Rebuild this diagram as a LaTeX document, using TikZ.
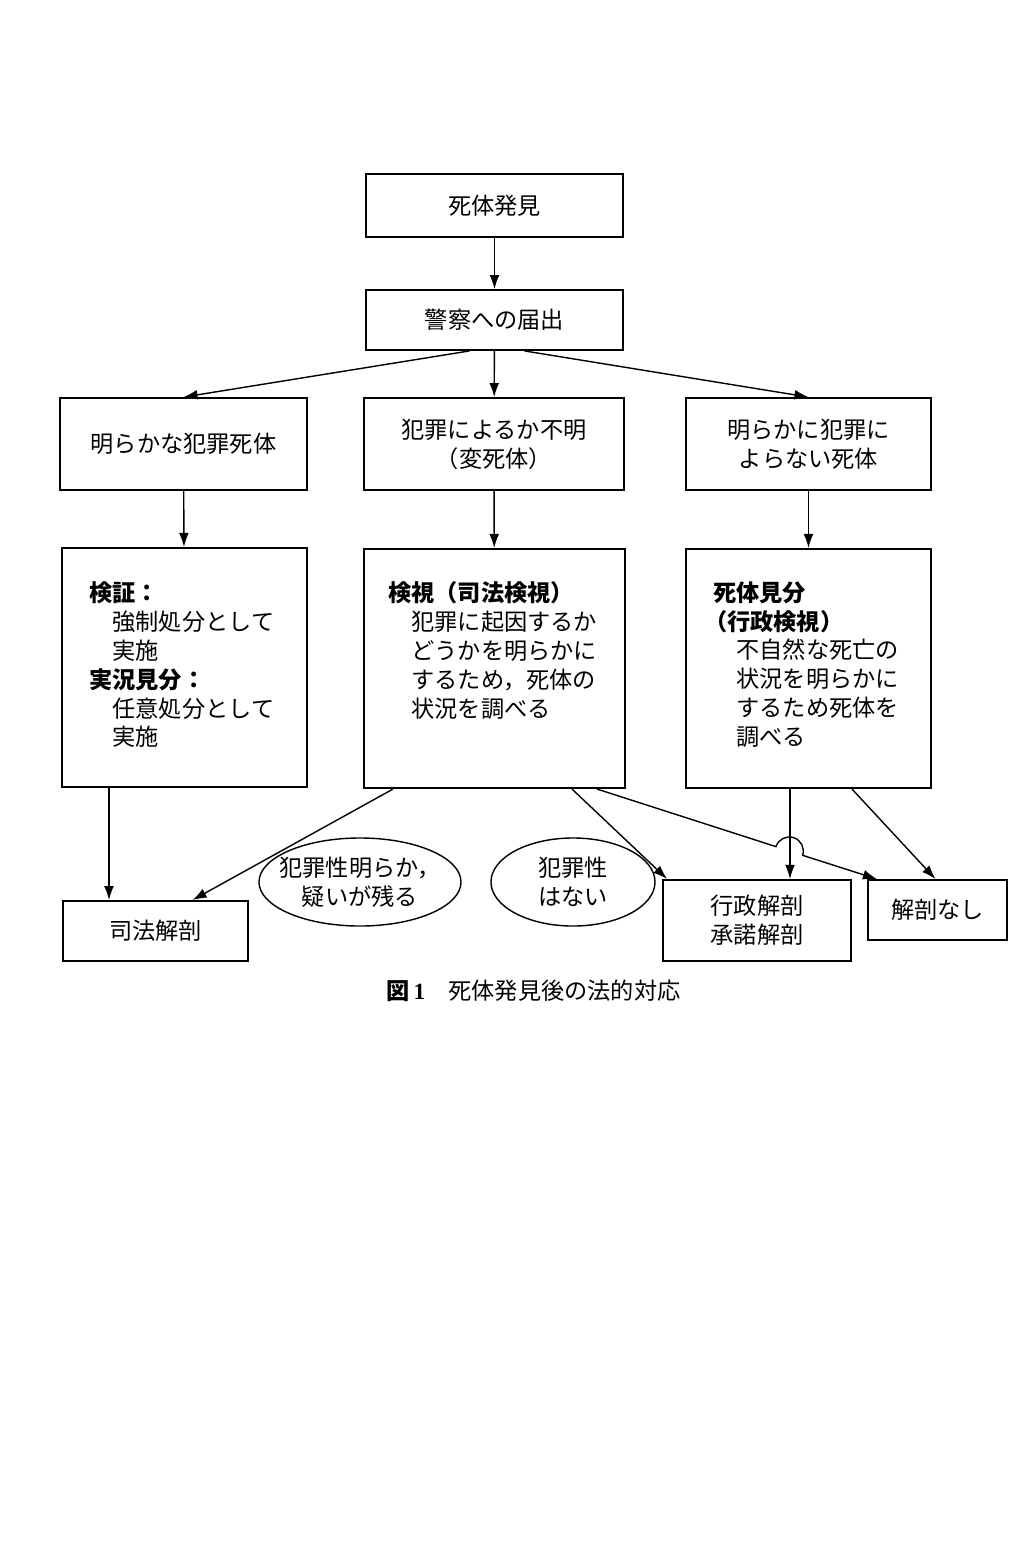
\documentclass[tikz,border=0pt]{standalone}
\usepackage{fontspec}
\setmainfont{Noto Sans CJK JP}
\newfontfamily\capnumfont{Liberation Serif}
\usetikzlibrary{arrows.meta,shapes.geometric,calc}
\newcommand{\diagfont}{\fontsize{16.5}{20.6}\selectfont}

\begin{document}
\begin{tikzpicture}[
    x=0.025cm, y=-0.025cm,
    % Define styles
    box/.style={rectangle, draw, line width=1.3pt, align=center, inner sep=0pt, font=\diagfont},
    bubble/.style={ellipse, draw, line width=1pt, align=center, inner xsep=-10pt, inner ysep=0pt, minimum height=2.2cm, font=\diagfont},
    note/.style={anchor=north west, align=left, inner sep=0pt, font=\diagfont},
    flow/.style={-{Latex[length=10pt,width=7pt]}, line width=1pt}
]
\useasboundingbox (0,0) rectangle (1020,1548);

% Discovery and report
\node[box, minimum width=6.43cm, minimum height=1.58cm] (discovery) at (494.5,205.5) {死体発見};
\node[box, minimum width=6.43cm, minimum height=1.5cm] (police) at (494.5,320) {警察への届出};

% Classification layer
\node[box, minimum width=6.18cm, minimum height=2.3cm] (obvious_crime) at (183.5,444) {明らかな犯罪死体};
\node[box, minimum width=6.5cm, minimum height=2.3cm] (unknown) at (494,444) {犯罪によるか不明\\（変死体）};
\node[box, minimum width=6.13cm, minimum height=2.3cm] (not_crime) at (808.5,444) {明らかに犯罪に\\よらない死体};

% Examination layer
\node[box, minimum width=6.13cm, minimum height=5.98cm] (kensho) at (184.5,667.5) {};
\node[box, minimum width=6.53cm, minimum height=5.98cm] (kenshi) at (494.5,668.5) {};
\node[box, minimum width=6.13cm, minimum height=5.98cm] (kenbun) at (808.5,668.5) {};

\node[note] (kensho_text) at (89,581) {{\bfseries 検証：}\\　強制処分として\\　実施\\{\bfseries 実況見分：}\\　任意処分として\\　実施};
\node[note] (kenshi_text) at (388,581) {{\bfseries 検視（司法検視）}\\　犯罪に起因するか\\　どうかを明らかに\\　するため，死体の\\　状況を調べる};
\node[note] (kenbun_text) at (713,581) {{\bfseries 死体見分}\\{\bfseries\hspace*{-0.4em}（行政検視）}\\　不自然な死亡の\\　状況を明らかに\\　するため死体を\\　調べる};

% Judgement bubbles
\node[bubble, minimum width=5.05cm] (suspicious) at (360,882) {犯罪性明らか，\\疑いが残る};
\node[bubble, minimum width=4.1cm] (no_crime) at (573,882) {犯罪性\\はない};

% Autopsy layer
\node[box, minimum width=4.63cm, minimum height=1.5cm] (judicial_autopsy) at (155.5,931) {司法解剖};
\node[box, minimum width=4.7cm, minimum height=2.03cm] (admin_autopsy) at (757,920.5) {行政解剖\\承諾解剖};
\node[box, minimum width=3.48cm, minimum height=1.5cm] (no_autopsy) at (937.5,910) {解剖なし};

% Caption
\node[font=\diagfont] (caption) at (533.5,991) {{\bfseries 図}\,{\capnumfont\bfseries 1}　死体発見後の法的対応};

% Flow connections
\draw[flow] (discovery) -- (police);
\draw[flow] ($(police.south)+(-25,0)$) -- (obvious_crime.north);
\draw[flow] (police) -- (unknown);
\draw[flow] ($(police.south)+(30,0)$) -- (not_crime.north);

\draw[flow] (obvious_crime) -- (kensho);
\draw[flow] (unknown) -- (kenshi);
\draw[flow] (not_crime) -- (kenbun);

\coordinate (kensho_l) at ($(kensho.south)+(-75.5,0)$);
\coordinate (kenshi_l) at ($(kenshi.south)+(-101.5,0)$);
\coordinate (kenshi_m) at ($(kenshi.south)+(77.5,0)$);
\coordinate (kenshi_r) at ($(kenshi.south)+(102.5,0)$);
\coordinate (kenbun_l) at ($(kenbun.south)+(-18.5,0)$);
\coordinate (kenbun_r) at ($(kenbun.south)+(43.5,0)$);
\coordinate (noaut_in) at ($(no_autopsy.north west)+(10,0)$);

\draw[flow] (kensho_l) -- (kensho_l |- judicial_autopsy.north);
\draw[flow] (kenshi_l) -- ($(judicial_autopsy.north)+(37,0)$);
\draw[flow] (kenshi_m) -- ($(admin_autopsy.north west)+(5,0)$);
\draw[flow] (kenbun_l) -- (kenbun_l |- admin_autopsy.north);
\draw[flow] (kenbun_r) -- ($(no_autopsy.north)+(-2,0)$);

% Hop over the vertical arrow
\coordinate (hop) at ($(kenshi_r)!0.687!(noaut_in)$);
\draw[flow] (kenshi_r) -- ($(hop)!0.35cm!(kenshi_r)$) arc[start angle=161.9, end angle=-18.1, radius=0.35cm] -- (noaut_in);

\end{tikzpicture}
\end{document}
